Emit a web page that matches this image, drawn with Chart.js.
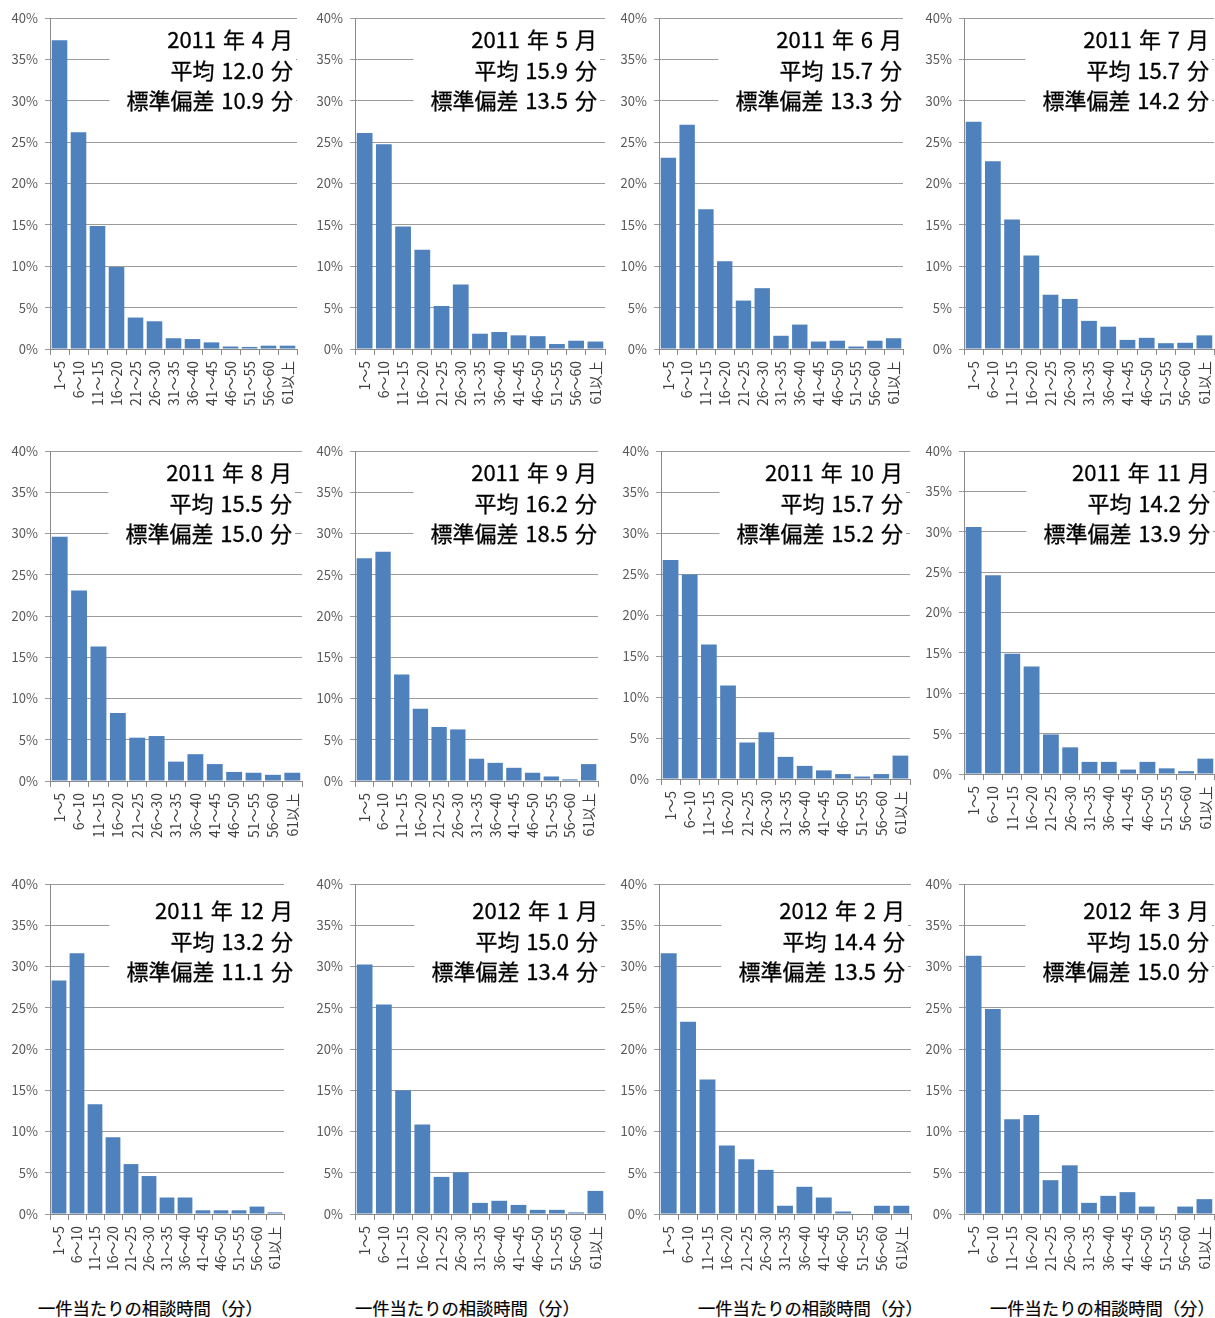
<!DOCTYPE html>
<html>
<head>
<meta charset="utf-8">
<script src="https://cdn.jsdelivr.net/npm/chart.js@4"></script>
<style>
  body { margin: 0; background: #fff; width: 1215px; height: 1318px; position: relative; overflow: hidden; }
  canvas { position: absolute; }
  .xtitle { position: absolute; font: 17.3px "Noto Sans CJK JP"; color: #000; white-space: nowrap; line-height: 1; -webkit-text-stroke: 0.2px #000; }
</style>
</head>
<body>
<script>
// ---- data ----
const categories = ['1〜5', '6〜10', '11〜15', '16〜20', '21〜25', '26〜30', '31〜35',
                    '36〜40', '41〜45', '46〜50', '51〜55', '56〜60', '61以上'];
const yTickLabels = ['0%', '5%', '10%', '15%', '20%', '25%', '30%', '35%', '40%'];

const months = ['2011 年 4 月', '2011 年 5 月', '2011 年 6 月', '2011 年 7 月',
                '2011 年 8 月', '2011 年 9 月', '2011 年 10 月', '2011 年 11 月',
                '2011 年 12 月', '2012 年 1 月', '2012 年 2 月', '2012 年 3 月'];
const means = ['12.0', '15.9', '15.7', '15.7', '15.5', '16.2', '15.7', '14.2', '13.2', '15.0', '14.4', '15.0'];
const stdDevs = ['10.9', '13.5', '13.3', '14.2', '15.0', '18.5', '15.2', '13.9', '11.1', '13.4', '13.5', '15.0'];

const apr2011 = [37.3, 26.2, 14.85, 9.9, 3.8, 3.35, 1.3, 1.2, 0.8, 0.3, 0.25, 0.4, 0.4];
const may2011 = [26.1, 24.75, 14.8, 12.0, 5.2, 7.8, 1.85, 2.05, 1.65, 1.55, 0.6, 1.0, 0.9];
const jun2011 = [23.1, 27.1, 16.9, 10.6, 5.85, 7.35, 1.6, 2.95, 0.9, 1.0, 0.3, 1.0, 1.3];
const jul2011 = [27.45, 22.7, 15.65, 11.3, 6.55, 6.05, 3.4, 2.7, 1.1, 1.35, 0.7, 0.75, 1.65];
const aug2011 = [29.6, 23.1, 16.3, 8.25, 5.25, 5.45, 2.35, 3.25, 2.05, 1.1, 1.0, 0.75, 1.0];
const sep2011 = [27.0, 27.8, 12.9, 8.75, 6.55, 6.25, 2.7, 2.2, 1.6, 1.0, 0.55, 0.2, 2.05];
const oct2011 = [26.7, 24.95, 16.4, 11.4, 4.45, 5.7, 2.7, 1.6, 1.05, 0.6, 0.3, 0.6, 2.85];
const nov2011 = [30.6, 24.6, 14.9, 13.3, 4.9, 3.3, 1.5, 1.5, 0.55, 1.5, 0.7, 0.35, 1.9];
const dec2011 = [28.3, 31.6, 13.3, 9.3, 6.05, 4.6, 2.0, 2.0, 0.45, 0.45, 0.45, 0.9, 0.2];
const jan2012 = [30.25, 25.4, 15.0, 10.85, 4.5, 5.05, 1.35, 1.6, 1.1, 0.5, 0.5, 0.2, 2.8];
const feb2012 = [31.6, 23.3, 16.3, 8.3, 6.65, 5.35, 1.0, 3.3, 2.0, 0.3, 0, 1.0, 1.0];
const mar2012 = [31.3, 24.85, 11.5, 12.0, 4.1, 5.9, 1.35, 2.2, 2.65, 0.9, 0, 0.9, 1.8];

const series = [apr2011, may2011, jun2011, jul2011, aug2011, sep2011,
                oct2011, nov2011, dec2011, jan2012, feb2012, mar2012];

const xTitle = '一件当たりの相談時間（分）';

// ---- layout (page pixels): plot left/right/top/bottom, right edge of the note ----
const panels = [
  { L: 50,  R: 297,  T: 18,  B: 349,  textR: 293 },
  { L: 355, R: 605,  T: 18,  B: 349,  textR: 597 },
  { L: 659, R: 903,  T: 18,  B: 349,  textR: 902 },
  { L: 964, R: 1214, T: 18,  B: 349,  textR: 1209 },
  { L: 50,  R: 302,  T: 451, B: 781,  textR: 292 },
  { L: 355, R: 598,  T: 451, B: 781,  textR: 597 },
  { L: 661, R: 910,  T: 451, B: 779,  textR: 903 },
  { L: 964, R: 1215, T: 451, B: 774,  textR: 1210 },
  { L: 50,  R: 284,  T: 884, B: 1214, textR: 293 },
  { L: 355, R: 605,  T: 884, B: 1214, textR: 598 },
  { L: 659, R: 911,  T: 884, B: 1214, textR: 905 },
  { L: 964, R: 1214, T: 884, B: 1214, textR: 1209 }
];
const titleLefts = [38, 355, 698, 990];

const BAR = '#4F81BD';
const GRID = '#9b9b9b';
const AXIS = '#8a8a8a';

// white note box with month / mean / std-dev, right aligned
const noteBox = {
  id: 'noteBox',
  afterDatasetsDraw(chart, args, opts) {
    const ctx = chart.ctx;
    const top = chart.chartArea.top;
    ctx.save();
    ctx.font = '22px "Noto Sans CJK JP"';
    ctx.wordSpacing = '2px';
    const w = Math.max(...opts.lines.map(s => ctx.measureText(s).width));
    ctx.fillStyle = '#fff';
    ctx.fillRect(opts.right - w - 17, top + 4, w + 20, opts.boxH);
    ctx.fillStyle = '#000';
    ctx.strokeStyle = '#000';
    ctx.lineWidth = 0.3;
    ctx.textAlign = 'right';
    ctx.textBaseline = 'middle';
    opts.lines.forEach((s, k) => {
      const y = top + opts.y0 + k * 30.5;
      ctx.fillText(s, opts.right, y);
      ctx.strokeText(s, opts.right, y);
    });
    ctx.restore();
  }
};

panels.forEach((p, i) => {
  const cLeft = p.L - 50;
  const cTop = p.T - 12;
  const cRight = Math.min(1215, Math.max(p.R, p.textR) + 4);
  const cw = cRight - cLeft;
  const ch = 12 + (p.B - p.T) + 80;
  const lastRow = i >= 8;

  const cv = document.createElement('canvas');
  cv.width = cw; cv.height = ch;
  cv.style.left = cLeft + 'px'; cv.style.top = cTop + 'px';
  cv.style.width = cw + 'px'; cv.style.height = ch + 'px';
  document.body.appendChild(cv);

  new Chart(cv, {
    type: 'bar',
    data: {
      labels: categories,
      datasets: [{
        data: series[i],
        backgroundColor: BAR,
        borderWidth: 0,
        barPercentage: 0.82,
        categoryPercentage: 1
      }]
    },
    options: {
      responsive: false,
      animation: false,
      devicePixelRatio: 1,
      layout: { padding: { left: 0, top: 12, right: cRight - p.R, bottom: 0 } },
      plugins: {
        legend: { display: false },
        tooltip: { enabled: false },
        noteBox: {
          lines: [months[i], '平均 ' + means[i] + ' 分', '標準偏差 ' + stdDevs[i] + ' 分'],
          right: p.textR - cLeft,
          y0: lastRow ? 27 : 22,
          boxH: lastRow ? 106 : 100
        }
      },
      scales: {
        x: {
          grid: { display: true, drawOnChartArea: false, drawTicks: true, tickLength: 6, offset: true, color: AXIS },
          border: { display: true, color: AXIS },
          ticks: {
            autoSkip: false, minRotation: 90, maxRotation: 90, padding: 6,
            color: '#404040', font: { family: 'Noto Sans CJK JP', size: 14 }
          },
          afterFit: s => { s.height = 80; s.paddingLeft = 0; s.paddingRight = 0; }
        },
        y: {
          min: 0, max: 40,
          ticks: {
            stepSize: 5, padding: 7,
            color: '#595959', font: { family: 'Noto Sans CJK JP', size: 13 },
            callback: v => yTickLabels[Math.round(v / 5)]
          },
          grid: { color: GRID, tickLength: 5 },
          border: { display: true, color: AXIS },
          afterFit: s => { s.width = 50; s.paddingTop = 0; s.paddingBottom = 0; }
        }
      }
    },
    plugins: [noteBox]
  });
});

// x-axis titles under the bottom row
titleLefts.forEach(x => {
  const d = document.createElement('div');
  d.className = 'xtitle';
  d.textContent = xTitle;
  d.style.left = x + 'px';
  d.style.top = '1299px';
  document.body.appendChild(d);
});
</script>
</body>
</html>
